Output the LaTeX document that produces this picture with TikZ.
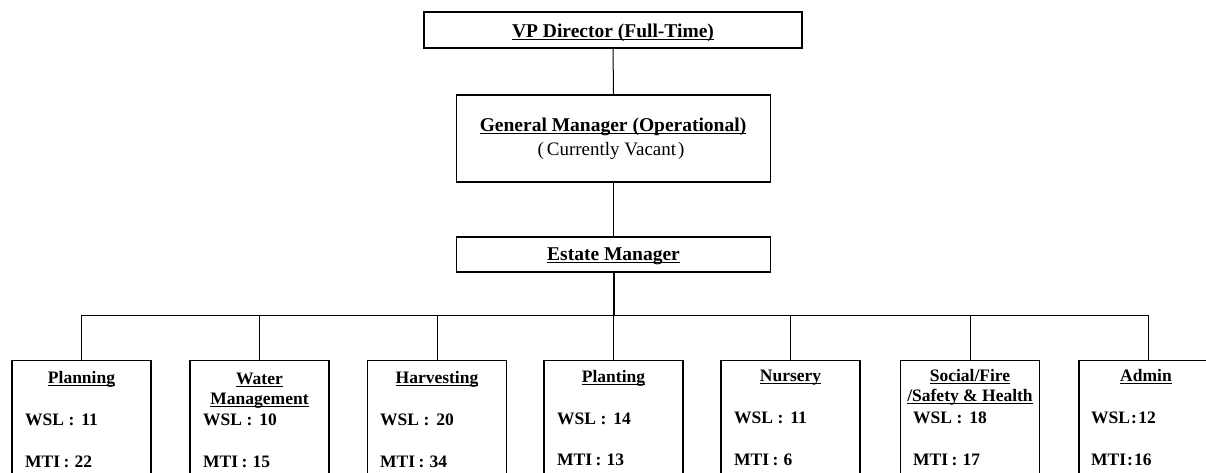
\documentclass[tikz,border=0pt]{standalone}
\usepackage{fontspec}
\setmainfont{Liberation Serif}
\newsavebox\ulbox
\newcommand\myul[1]{\sbox\ulbox{#1}\rlap{\rule[-2.8pt]{\wd\ulbox}{1.2pt}}\usebox\ulbox}
\tikzset{
  orgbox/.style={draw=black, line width=1.1pt, inner sep=0pt, fill=none},
  topbox/.style={orgbox},
  deptbox/.style={orgbox, minimum width=139pt, minimum height=140pt, anchor=north},
  toptext/.style={inner sep=0pt, anchor=base, font=\fontsize{19.5}{22}\selectfont\bfseries},
  subtext/.style={inner sep=0pt, anchor=base, font=\fontsize{19}{22}\selectfont},
  headtext/.style={inner sep=0pt, anchor=base, font=\fontsize{17.5}{20}\selectfont\bfseries},
  valtext/.style={inner sep=0pt, anchor=base west, font=\fontsize{17.5}{20}\selectfont\bfseries},
  link/.style={draw=black, line width=1pt},
  thicklink/.style={draw=black, line width=2pt}
}
\begin{document}
\begin{tikzpicture}[x=1pt,y=-1pt]
\useasboundingbox (0,0) rectangle (1206,472);
\clip (0,0) rectangle (1206,472);
% top boxes
\node[topbox, minimum width=378pt, minimum height=36pt] (vp) at (613,30) {};
\node[topbox, minimum width=314pt, minimum height=87pt] (gm) at (613.5,138.5) {};
\node[topbox, minimum width=314pt, minimum height=35pt] (em) at (613.5,254.5) {};
\node[toptext] (vpt) at (613,37) {\myul{VP Director (Full-Time)}};
\node[toptext] (gmt) at (613,131) {\myul{General Manager (Operational)}};
\node[subtext] (gms) at (611,155) {(\hspace{3pt}Currently Vacant\hspace{2pt})};
\node[toptext] (emt) at (613.5,260) {\myul{Estate Manager}};
% department boxes
\node[deptbox] (b1) at (81.5,359.5) {};
\node[deptbox] (b2) at (259.5,359.5) {};
\node[deptbox] (b3) at (437,359.5) {};
\node[deptbox] (b4) at (613.5,359.5) {};
\node[deptbox] (b5) at (790.5,359.5) {};
\node[deptbox] (b6) at (970,359.5) {};
\node[deptbox] (b7) at (1148.5,359.5) {};
% connectors
\coordinate (bus) at (613.5,315.7);
\draw[link] (vp.south) -- (gm.north);
\draw[link] (gm.south) -- (em.north);
\draw[thicklink] (em.south) -- (em.south |- bus);
\draw[link] (b1.north) -- (b1.north |- bus) -- (b7.north |- bus) -- (b7.north);
\foreach \b in {b2,b3,b4,b5,b6}{
  \draw[link] (\b.north) -- (\b.north |- bus);
}
% texts in department boxes
\node[headtext] (h1) at (81.5,383) {\myul{Planning}};
\node[valtext] (w1) at (25,425.5) {WSL\hspace{4.5pt}:\hspace{7pt}11};
\node[valtext] (m1) at (25,467) {MTI\hspace{3.5pt}:\hspace{5pt}22};

\node[headtext] (h2a) at (259.5,384) {\myul{Water}};
\node[headtext] (h2b) at (259.5,404) {\myul{Management}};
\node[valtext] (w2) at (203,425.5) {WSL\hspace{4.5pt}:\hspace{7pt}10};
\node[valtext] (m2) at (203,467) {MTI\hspace{3.5pt}:\hspace{5pt}15};

\node[headtext] (h3) at (437,383) {\myul{Harvesting}};
\node[valtext] (w3) at (380,425.5) {WSL\hspace{4.5pt}:\hspace{7pt}20};
\node[valtext] (m3) at (380,467) {MTI\hspace{3.5pt}:\hspace{5pt}34};

\node[headtext] (h4) at (613.5,382.5) {\myul{Planting}};
\node[valtext] (w4) at (557,424) {WSL\hspace{4.5pt}:\hspace{7pt}14};
\node[valtext] (m4) at (557,465) {MTI\hspace{3.5pt}:\hspace{5pt}13};

\node[headtext] (h5) at (790.5,381.5) {\myul{Nursery}};
\node[valtext] (w5) at (734,423.5) {WSL\hspace{4.5pt}:\hspace{7pt}11};
\node[valtext] (m5) at (734,465) {MTI\hspace{3.5pt}:\hspace{5pt}6};

\node[headtext] (h6a) at (970,381) {\myul{Social/Fire}};
\node[headtext] (h6b) at (970,401.5) {\myul{/Safety \& Health}};
\node[valtext] (w6) at (913,423.5) {WSL\hspace{4.5pt}:\hspace{7pt}18};
\node[valtext] (m6) at (913,465) {MTI\hspace{3.5pt}:\hspace{5pt}17};

\node[headtext] (h7) at (1146,381) {\myul{Admin}};
\node[valtext] (w7) at (1091,423.5) {WSL\hspace{1pt}:\hspace{1.5pt}12};
\node[valtext] (m7) at (1091,465) {MTI\hspace{1pt}:\hspace{1pt}16};
\end{tikzpicture}
\end{document}
